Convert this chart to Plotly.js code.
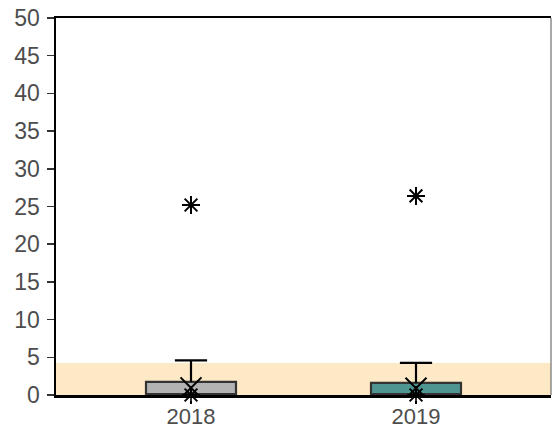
<!DOCTYPE html>
<html><head><meta charset="utf-8">
<script src="https://cdn.plot.ly/plotly-3.0.1.min.js"></script>
<style>html,body{margin:0;padding:0;background:#fff}</style>
</head><body>
<div id="chart" style="width:552px;height:431px"></div>
<script>
var years = ["2018", "2019"];
var q1 = [0, 0];
var medians = [0, 0];
var q3 = [1.75, 1.6];
var upperWhisker = [4.6, 4.25];
var means = [0.95, 0.9];
var outliers = [25.2, 26.4];
var zeroPoints = [0, 0];
var boxColors = ["#b3b3b3", "#4e9490"];
var bandTop = 4.25;
var yTicks = [0, 5, 10, 15, 20, 25, 30, 35, 40, 45, 50];

var traces = [];
years.forEach(function(yr, i) {
  traces.push({
    type: "box", x: [yr], q1: [q1[i]], median: [medians[i]], q3: [q3[i]],
    lowerfence: [q1[i]], upperfence: [q3[i]],
    width: 0.4, fillcolor: boxColors[i],
    line: {color: "#333333", width: 2.2},
    boxpoints: false, hoverinfo: "skip", showlegend: false
  });
  traces.push({
    type: "scatter", mode: "lines", x: [yr, yr], y: [q3[i], upperWhisker[i]],
    line: {color: "#000", width: 2.2}, showlegend: false, hoverinfo: "skip"
  });
});
traces.push({
  type: "scatter", mode: "markers", x: years, y: upperWhisker,
  marker: {symbol: "line-ew-open", size: 23, color: "#000", line: {color: "#000", width: 2.2}},
  showlegend: false, hoverinfo: "skip"
});
traces.push({
  type: "scatter", mode: "markers", x: years, y: means,
  marker: {symbol: "x-thin-open", size: 21, color: "#000", line: {color: "#000", width: 2}},
  showlegend: false, hoverinfo: "skip"
});
traces.push({
  type: "scatter", mode: "markers", x: years.concat(years), y: outliers.concat(zeroPoints),
  marker: {symbol: "asterisk-open", size: 15, color: "#000", line: {color: "#000", width: 2}},
  showlegend: false, hoverinfo: "skip", cliponaxis: false
});

var layout = {
  width: 552, height: 431,
  margin: {l: 56, r: 1, t: 18, b: 36, pad: 0},
  paper_bgcolor: "#fff", plot_bgcolor: "#fff",
  showlegend: false,
  font: {family: "Liberation Sans, Arial, sans-serif", size: 22, color: "#4d4d4d"},
  xaxis: {
    type: "category", range: [-0.6, 1.6], showgrid: false, zeroline: false,
    showline: true, linecolor: "#000", linewidth: 2.5, mirror: true,
    ticks: "outside", ticklen: 3, tickcolor: "#333", tickwidth: 1.5,
    ticklabelstandoff: -3,
    tickfont: {size: 22, color: "#4d4d4d"}, fixedrange: true
  },
  yaxis: {
    range: [0, 50], tickvals: yTicks, ticktext: yTicks.map(String),
    showgrid: false, zeroline: false,
    showline: true, linecolor: "#000", linewidth: 2.5,
    ticks: "outside", ticklen: 7, tickcolor: "#333", tickwidth: 1.5,
    ticklabelstandoff: 2,
    tickfont: {size: 23, color: "#4d4d4d"}, fixedrange: true
  },
  shapes: [
    {type: "rect", xref: "paper", yref: "y", x0: 0, x1: 1, y0: 0, y1: bandTop,
     fillcolor: "#fde9c6", line: {width: 0}, layer: "below"},
    {type: "line", xref: "paper", yref: "paper", x0: 1, x1: 1, y0: 0, y1: 1,
     line: {color: "#555", width: 1}}
  ]
};
Plotly.newPlot("chart", traces, layout, {staticPlot: true, displayModeBar: false});
</script>
</body></html>
